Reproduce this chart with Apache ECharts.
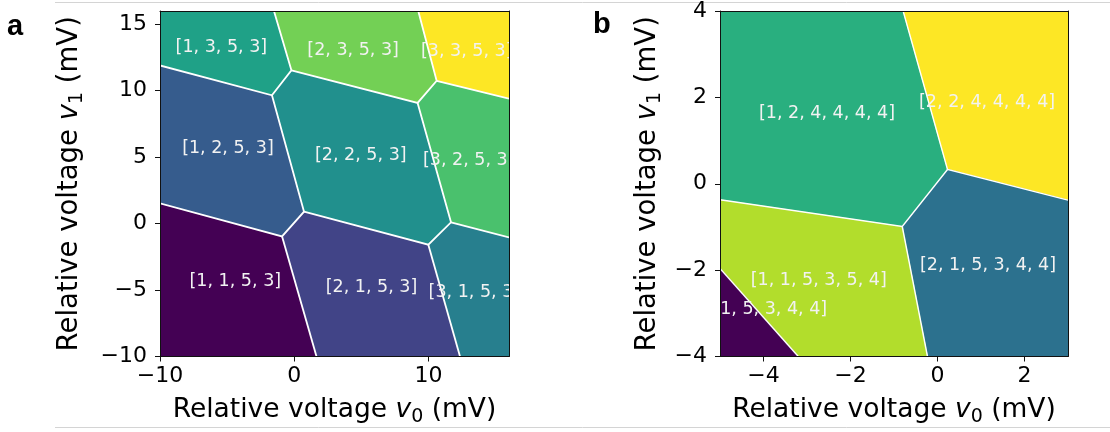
<!DOCTYPE html>
<html><head><meta charset="utf-8">
<script src="https://cdn.jsdelivr.net/npm/echarts@6/dist/echarts.min.js"></script>
<style>html,body{margin:0;padding:0;background:#fff}#c{width:1110px;height:432px}</style>
</head><body><div id="c"></div>
<script>
// ---------- Panel a data ----------
const aRange = [-10, 16];
const aXTicks = [-10, 0, 10];
const aYTicks = [-10, -5, 0, 5, 10, 15];
const aLabels = ['[1, 1, 5, 3]', '[2, 1, 5, 3]', '[3, 1, 5, 3]',
                 '[1, 2, 5, 3]', '[2, 2, 5, 3]', '[3, 2, 5, 3]',
                 '[1, 3, 5, 3]', '[2, 3, 5, 3]', '[3, 3, 5, 3]'];
const aColors = ['#440154', '#414487', '#277f8e',
                 '#365c8d', '#21908d', '#4ac16d',
                 '#1fa187', '#73d055', '#fde725'];
const aPolygons = [
  [[-10, 1.52], [-0.91, -0.96], [1.66, -10], [-10, -10]],
  [[-0.91, -0.96], [0.73, 0.90], [9.99, -1.59], [12.35, -10], [1.66, -10]],
  [[9.99, -1.59], [11.68, 0.10], [16, -1.04], [16, -10], [12.35, -10]],
  [[-10, 11.9], [-1.66, 9.66], [0.73, 0.90], [-0.91, -0.96], [-10, 1.52]],
  [[-0.21, 11.54], [9.19, 9.08], [11.68, 0.10], [9.99, -1.59], [0.73, 0.90], [-1.66, 9.66]],
  [[10.61, 10.75], [16, 9.41], [16, -1.04], [11.68, 0.10], [9.19, 9.08]],
  [[-10, 16], [-1.51, 16], [-0.21, 11.54], [-1.66, 9.66], [-10, 11.9]],
  [[-1.51, 16], [9.24, 16], [10.61, 10.75], [9.19, 9.08], [-0.21, 11.54]],
  [[9.24, 16], [16, 16], [16, 9.41], [10.61, 10.75]]
];
const aLabelPos = [[-4.39, -4.37], [5.76, -4.77], [13.42, -5.19],
                   [-4.94, 5.63], [4.96, 5.13], [13.0, 4.75],
                   [-5.43, 13.22], [4.39, 13.04], [12.85, 12.96]];
const aEdges = [
  [[-10, 11.9], [-1.66, 9.66], [-0.21, 11.54], [-1.51, 16]],
  [[-0.21, 11.54], [9.19, 9.08], [10.61, 10.75], [9.24, 16]],
  [[10.61, 10.75], [16, 9.41]],
  [[-1.66, 9.66], [0.73, 0.90], [-0.91, -0.96], [-10, 1.52]],
  [[9.19, 9.08], [11.68, 0.10], [9.99, -1.59], [0.73, 0.90]],
  [[11.68, 0.10], [16, -1.04]],
  [[-0.91, -0.96], [1.66, -10]],
  [[9.99, -1.59], [12.35, -10]]
];

// ---------- Panel b data ----------
const bXRange = [-5, 3];
const bYRange = [-4, 4];
const bXTicks = [-4, -2, 0, 2];
const bYTicks = [-4, -2, 0, 2, 4];
const bLabels = ['[1, 2, 4, 4, 4, 4]', '[2, 2, 4, 4, 4, 4]', '[2, 1, 5, 3, 4, 4]',
                 '[1, 1, 5, 3, 5, 4]', '[1, 1, 5, 3, 4, 4]'];
const bColors = ['#29af7f', '#fde725', '#2c718e', '#b2dd2c', '#440154'];
const bPolygons = [
  [[-5, 4], [-0.79, 4], [0.23, 0.33], [-0.81, -0.99], [-5, -0.37]],
  [[-0.79, 4], [3, 4], [3, -0.38], [0.23, 0.33]],
  [[0.23, 0.33], [3, -0.38], [3, -4], [-0.23, -4], [-0.81, -0.99]],
  [[-5, -0.37], [-0.81, -0.99], [-0.23, -4], [-3.20, -4], [-5, -1.96]],
  [[-5, -1.96], [-3.20, -4], [-5, -4]]
];
const bLabelPos = [[-2.54, 1.62], [1.14, 1.89], [1.16, -1.90], [-2.73, -2.24], [-4.10, -2.91]];
const bEdges = [
  [[-0.79, 4], [0.23, 0.33], [3, -0.38]],
  [[0.23, 0.33], [-0.81, -0.99], [-5, -0.37]],
  [[-0.81, -0.99], [-0.23, -4]],
  [[-5, -1.96], [-3.20, -4]]
];

// ---------- chart ----------
const FONT = 'DejaVu Sans';
const minus = v => String(v).replace('-', '\u2212');
function richName(fs) {
  const sub = Math.round(fs * 0.7);
  return {
    n: {fontSize: fs, fontFamily: FONT, color: '#000', lineHeight: 30},
    v: {fontSize: fs, fontFamily: FONT, fontStyle: 'italic', color: '#000', lineHeight: 30},
    s: {fontSize: sub, fontFamily: FONT, color: '#000', lineHeight: 30, padding: [14, 0, 0, 0]}
  };
}
const lineStyle = {color: '#111', width: 1};

function mainX(gi, range, ticks, gap) {
  return {
    type: 'value', gridIndex: gi, min: range[0], max: range[1], position: 'bottom', z: 10,
    name: '{n|Relative voltage }{v|v}{s|0}{n| (mV)}', nameLocation: 'middle', nameGap: gap,
    nameTextStyle: {rich: richName(26.5)},
    axisLine: {show: true, onZero: false, lineStyle},
    axisTick: {show: true, length: 5, inside: false, lineStyle, customValues: ticks},
    axisLabel: {show: true, margin: 9, fontSize: 22, fontFamily: FONT, color: '#000',
                customValues: ticks, formatter: minus},
    splitLine: {show: false}
  };
}
function mainY(gi, range, ticks, gap) {
  return {
    type: 'value', gridIndex: gi, min: range[0], max: range[1], position: 'left', z: 10,
    name: '{n|Relative voltage }{v|v}{s|1}{n| (mV)}', nameLocation: 'middle', nameGap: gap,
    nameRotate: 90, nameTextStyle: {rich: richName(27.5)},
    axisLine: {show: true, onZero: false, lineStyle},
    axisTick: {show: true, length: 5, inside: false, lineStyle, customValues: ticks},
    axisLabel: {show: true, margin: 13, fontSize: 22, fontFamily: FONT, color: '#000',
                customValues: ticks, formatter: minus},
    splitLine: {show: false}
  };
}
function frameAx(gi, range, pos) {
  return {
    type: 'value', gridIndex: gi, min: range[0], max: range[1], position: pos, z: 10,
    axisLine: {show: true, onZero: false, lineStyle},
    axisTick: {show: false}, axisLabel: {show: false}, splitLine: {show: false}
  };
}

function regionSeries(xi, yi, polys, colors, labels, labelPos, edges, edgeW) {
  return [
    {
      type: 'custom', xAxisIndex: xi, yAxisIndex: yi, clip: true, silent: true, z: 2,
      data: labelPos,
      renderItem: (params, api) => {
        const i = params.dataIndex;
        return {type: 'polygon', z2: 0,
          shape: {points: polys[i].map(p => api.coord(p))},
          style: {fill: colors[i], stroke: colors[i], lineWidth: 0.6}};
      }
    },
    {
      type: 'custom', xAxisIndex: xi, yAxisIndex: yi, clip: true, silent: true, z: 3,
      data: edges.map(e => e[0]),
      renderItem: (params, api) => {
        const i = params.dataIndex;
        return {type: 'polyline', z2: 10,
          shape: {points: edges[i].map(p => api.coord(p))},
          style: {fill: null, stroke: '#ffffff', lineWidth: edgeW}};
      }
    },
    {
      type: 'custom', xAxisIndex: xi, yAxisIndex: yi, clip: true, silent: true, z: 4,
      data: labelPos,
      renderItem: (params, api) => {
        const i = params.dataIndex;
        const c = api.coord(labelPos[i]);
        return {type: 'text', z2: 20, x: c[0], y: c[1],
          style: {text: labels[i], fill: '#f2f2f2', font: '17.5px "DejaVu Sans"',
                  align: 'center', verticalAlign: 'middle'}};
      }
    }
  ];
}

const chart = echarts.init(document.getElementById('c'), null, {renderer: 'canvas'});
chart.setOption({
  animation: false,
  backgroundColor: '#fff',
  grid: [
    {left: 160, top: 11, width: 349, height: 350, containLabel: false},
    {left: 720, top: 11, width: 348, height: 350, containLabel: false}
  ],
  xAxis: [
    mainX(0, aRange, aXTicks, 39), frameAx(0, aRange, 'top'),
    mainX(1, bXRange, bXTicks, 39), frameAx(1, bXRange, 'top')
  ],
  yAxis: [
    mainY(0, aRange, aYTicks, 75), frameAx(0, aRange, 'right'),
    mainY(1, bYRange, bYTicks, 57), frameAx(1, bYRange, 'right')
  ],
  series: [
    ...regionSeries(0, 0, aPolygons, aColors, aLabels, aLabelPos, aEdges, 1.8),
    ...regionSeries(2, 2, bPolygons, bColors, bLabels, bLabelPos, bEdges, 1.4)
  ],
  graphic: [
    {type: 'line', silent: true, shape: {x1: 55, y1: 2.5, x2: 1110, y2: 2.5},
     style: {stroke: '#d4d4d4', lineWidth: 1}},
    {type: 'line', silent: true, shape: {x1: 55, y1: 427.5, x2: 1110, y2: 427.5},
     style: {stroke: '#d4d4d4', lineWidth: 1}},
    {type: 'text', silent: true, left: 7, top: 12,
     style: {text: 'a', font: 'bold 29px "Liberation Sans"', fill: '#000'}},
    {type: 'text', silent: true, left: 593, top: 10,
     style: {text: 'b', font: 'bold 29px "Liberation Sans"', fill: '#000'}}
  ]
});
</script></body></html>
